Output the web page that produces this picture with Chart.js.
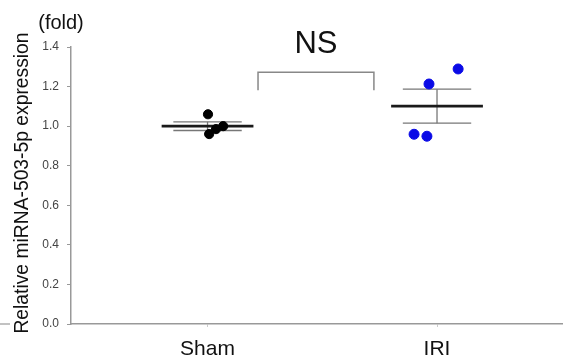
<!DOCTYPE html>
<html>
<head>
<meta charset="utf-8">
<script src="https://cdn.jsdelivr.net/npm/chart.js@4.4.1/dist/chart.umd.min.js"></script>
<style>
html,body{margin:0;padding:0;background:#fff;}
#wrap{width:563px;height:356px;position:relative;}
</style>
</head>
<body>
<div id="wrap"><canvas id="c" width="563" height="356"></canvas></div>
<script>
// ---- data ----
const categories = ['Sham', 'IRI'];
const shamValues = [1.06, 0.96, 0.985, 1.0];
const shamJitter = [0.002, 0.007, 0.037, 0.068];
const iriValues = [1.289, 1.213, 0.959, 0.949];
const iriJitter = [0.092, -0.035, -0.10, -0.044];
const groupMeans = [1.0, 1.101];
const groupSEM = [0.022, 0.086];
const yTicks = [0, 0.2, 0.4, 0.6, 0.8, 1.0, 1.2, 1.4];
const bracketX = [0.22, 0.725];
const bracketY = [1.182, 1.273];
const sigLabel = 'NS';
const yTitle = 'Relative miRNA-503-5p expression';
const yUnit = '(fold)';

const FONT = "'Liberation Sans', Arial, sans-serif";
const MEAN_HALF = 0.2, SEM_HALF = 0.149;

const datasets = [];
datasets.push({
  type: 'scatter', label: categories[0], order: 0,
  data: shamValues.map((v, i) => ({x: 0 + shamJitter[i], y: v})),
  backgroundColor: '#000', borderColor: '#000', pointRadius: 4.6, pointHoverRadius: 4.6
});
datasets.push({
  type: 'scatter', label: categories[1], order: 0,
  data: iriValues.map((v, i) => ({x: 1 + iriJitter[i], y: v})),
  backgroundColor: '#0a0ae6', borderColor: '#0a0ae6', pointRadius: 5, pointHoverRadius: 5
});
function seg(pts, color, width, order) {
  datasets.push({type: 'line', data: pts, borderColor: color, borderWidth: width,
    pointRadius: 0, fill: false, showLine: true, order: order, clip: false, tension: 0});
}
groupMeans.forEach((m, g) => {
  const s = groupSEM[g];
  seg([{x: g - MEAN_HALF, y: m}, {x: g + MEAN_HALF, y: m}], '#1a1a1a', 2.6, 1);
  seg([{x: g - SEM_HALF, y: m + s}, {x: g + SEM_HALF, y: m + s}], '#777', 1.3, 2);
  seg([{x: g - SEM_HALF, y: m - s}, {x: g + SEM_HALF, y: m - s}], '#777', 1.3, 2);
  seg([{x: g, y: m - s}, {x: g, y: m + s}], '#777', 1.3, 2);
});
seg([{x: bracketX[0], y: bracketY[0]}, {x: bracketX[0], y: bracketY[1]},
     {x: bracketX[1], y: bracketY[1]}, {x: bracketX[1], y: bracketY[0]}], '#888', 1.5, 2);

// stretch the plot area to the right edge of the canvas
const stretchPlugin = {
  id: 'stretch',
  afterLayout(chart) {
    const x = chart.scales.x, W = chart.width;
    if (x.right < W) {
      x.right = W;
      x.width = W - x.left;
      chart.chartArea.right = W;
      chart.chartArea.width = W - chart.chartArea.left;
      if (typeof x.configure === 'function') x.configure();
      x._labelItems = null;
      x._gridLineItems = null;
    }
  }
};

const textPlugin = {
  id: 'texts',
  afterDraw(chart) {
    const ctx = chart.ctx;
    const xs = chart.scales.x, ys = chart.scales.y;
    ctx.save();
    ctx.fillStyle = '#111';
    // significance label
    ctx.font = '31px ' + FONT;
    ctx.textAlign = 'center';
    ctx.textBaseline = 'alphabetic';
    ctx.fillText(sigLabel, xs.getPixelForValue((bracketX[0] + bracketX[1]) / 2), 53);
    // unit
    ctx.font = '20px ' + FONT;
    ctx.fillText(yUnit, 61, 29);
    // y title
    ctx.font = '19.3px ' + FONT;
    ctx.translate(28, 183);
    ctx.rotate(-Math.PI / 2);
    ctx.fillText(yTitle, 0, 0);
    ctx.restore();
    // small artifact line at left
    ctx.save();
    ctx.strokeStyle = '#999';
    ctx.lineWidth = 1.2;
    ctx.beginPath();
    ctx.moveTo(0, ys.getPixelForValue(0));
    ctx.lineTo(10, ys.getPixelForValue(0));
    ctx.stroke();
    ctx.restore();
  }
};

new Chart(document.getElementById('c'), {
  type: 'scatter',
  data: {datasets},
  options: {
    responsive: false,
    animation: false,
    devicePixelRatio: 1,
    layout: {padding: {left: 0, top: 47, right: 0, bottom: 0}},
    plugins: {legend: {display: false}, tooltip: {enabled: false}},
    scales: {
      x: {
        type: 'linear', min: -0.595, max: 1.549,
        afterBuildTicks: s => { s.ticks = categories.map((c, i) => ({value: i})); },
        afterFit: s => { s.height = 32; s.paddingLeft = 0; s.paddingRight = 0; },
        ticks: {
          callback: (v) => categories[v] !== undefined ? categories[v] : '',
          font: {family: FONT, size: 21}, color: '#111', padding: 10, maxRotation: 0, autoSkip: false
        },
        grid: {drawOnChartArea: false, tickLength: 3, color: '#ccc'},
        border: {color: '#999', width: 1.5}
      },
      y: {
        min: 0, max: 1.4,
        afterBuildTicks: s => { s.ticks = yTicks.map(v => ({value: v})); },
        afterFit: s => { s.width = 71; s.paddingTop = 0; s.paddingBottom = 0; },
        ticks: {
          callback: v => Number(v).toFixed(1),
          font: {family: FONT, size: 12}, color: '#444', padding: 8
        },
        grid: {drawOnChartArea: false, tickLength: 4, color: '#999'},
        border: {color: '#999', width: 1.5}
      }
    }
  },
  plugins: [stretchPlugin, textPlugin]
});
</script>
</body>
</html>
